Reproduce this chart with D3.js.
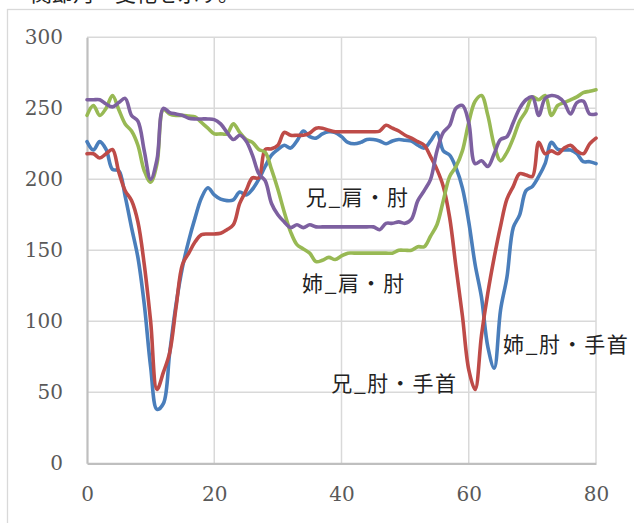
<!DOCTYPE html>
<html>
<head>
<meta charset="utf-8">
<script src="https://cdn.jsdelivr.net/npm/d3@7/dist/d3.min.js"></script>
<style>
  body { margin: 0; background: #fff; }
  svg { display: block; }
</style>
</head>
<body>
<svg id="chart" width="634" height="523"></svg>
<script>
// Joint angle (degrees) per frame, frames 0..80
const aneElbowWrist = [
  226.5, 220.6, 226.5, 221, 207, 206, 188, 166, 145, 112,
  68, 38, 42, 78, 112, 138, 157, 173, 187, 194,
  189, 186, 185, 185.5, 191, 189, 193, 200, 209, 217,
  221, 224, 222, 227, 234, 230, 229, 232, 233.5, 233,
  230, 226, 225, 226, 228, 228, 227, 225, 227, 228,
  227.5, 227, 224, 222, 227, 233, 220, 217, 208, 194,
  170, 140, 117, 82, 67, 108, 131, 166, 175, 192,
  195, 202, 211, 226, 221, 220.6, 220.6, 218, 212.4, 212.4,
  211
];
const aniElbowWrist = [
  218, 218, 215, 218, 221, 205, 192, 185, 170, 140,
  100, 52, 64, 78, 110, 140, 148, 156, 161, 161.5,
  161.5, 162, 164.5, 168, 183, 192, 201, 201, 221, 221.5,
  224, 233, 231, 231, 231, 232.5, 236, 236, 234.5, 233.5,
  233.5, 233.5, 233.5, 233.5, 233.5, 233.5, 234, 238, 236, 234,
  231, 229, 226.5, 224, 216, 207, 195, 173, 138, 104,
  66, 52, 90, 120, 145, 167, 186, 195, 204, 203,
  202, 226, 218, 220, 218, 222, 224, 220, 218, 225,
  229
];
const aneShoulderElbow = [
  245, 252, 245, 250, 259, 249, 239, 234, 224, 206,
  198, 211, 249, 246, 245, 245, 244.5, 244, 240, 236,
  232, 232, 232, 239, 233, 228, 226, 221, 219, 207,
  193, 177, 163, 154, 151, 148, 142, 143, 145, 143.5,
  146, 148, 148, 148, 148, 148, 148, 148, 148, 150,
  150, 150, 152.5, 152.5, 160, 168, 185, 202, 209, 220,
  240, 255, 259, 245, 224, 213, 219, 229, 241, 248,
  258, 256, 259, 245, 252, 254, 256, 258, 261, 262,
  263
];
const aniShoulderElbow = [
  256, 256, 256, 253, 251, 254, 257, 245, 241, 220,
  200, 214, 250, 247, 246, 245, 243, 242.5, 242.5, 242.5,
  242, 239, 233, 228, 231, 227, 217, 204, 199, 183,
  175, 170, 166, 168, 166, 168, 166.5, 166.5, 166.5, 166.5,
  166.5, 166.5, 166.5, 166.5, 166.5, 166.5, 164.5, 169, 169, 170,
  169, 172, 185, 192, 200, 220, 233, 238, 250, 252,
  240, 211, 213, 209, 218, 228, 230, 240, 250, 256,
  258, 245, 257, 259, 258, 254, 246, 254, 255, 246,
  246
];

const seriesNames = ["姉_肘・手首", "兄_肘・手首", "姉_肩・肘", "兄_肩・肘"];
const seriesColors = ["#4a7ebb", "#be4b48", "#98b954", "#7d60a0"];
const seriesValues = [aneElbowWrist, aniElbowWrist, aneShoulderElbow, aniShoulderElbow];

const xTicks = [0, 20, 40, 60, 80];
const yTicks = [0, 50, 100, 150, 200, 250, 300];

// In-plot series labels: series index, frame and angle of the text baseline start
const labelAnchors = [
  { s: 3, x: 34.4, y: 182 },
  { s: 2, x: 33.8, y: 121 },
  { s: 0, x: 65.4, y: 78.5 },
  { s: 1, x: 38.4, y: 51 }
];

const svg = d3.select("#chart");
const W = 634, H = 523;

const x = d3.scaleLinear().domain([0, 80]).range([87, 596]);
const y = d3.scaleLinear().domain([0, 300]).range([463.3, 37.3]);

// caption line running above the chart frame (only its lower edge shows)
svg.append("text")
  .attr("x", 10).attr("y", 1)
  .attr("font-family", "'Noto Sans CJK JP', sans-serif")
  .attr("font-size", 21)
  .attr("fill", "#222")
  .text("・関節角・変化を示す。");

// chart frame
svg.append("rect")
  .attr("x", 7.5).attr("y", 9.5)
  .attr("width", W + 10).attr("height", H + 10)
  .attr("fill", "#fff")
  .attr("stroke", "#d9d9d9")
  .attr("stroke-width", 1.3);

// gridlines
const grid = svg.append("g");
grid.selectAll("line.h").data(yTicks.filter(d => d > 0)).join("line")
  .attr("x1", x(0)).attr("x2", x(80))
  .attr("y1", d => y(d)).attr("y2", d => y(d))
  .attr("stroke", "#d9d9d9").attr("stroke-width", 1.5);
grid.selectAll("line.v").data(xTicks.filter(d => d > 0)).join("line")
  .attr("y1", y(0)).attr("y2", y(300))
  .attr("x1", d => x(d)).attr("x2", d => x(d))
  .attr("stroke", "#d9d9d9").attr("stroke-width", 1.5);

// axes
const yAxis = d3.axisLeft(y).tickValues(yTicks).tickSize(0).tickPadding(24);
const xAxis = d3.axisBottom(x).tickValues(xTicks).tickSize(0).tickPadding(24);

const gy = svg.append("g").attr("transform", `translate(${x(0)},0)`).call(yAxis);
const gx = svg.append("g").attr("transform", `translate(0,${y(0)})`).call(xAxis);
[gx, gy].forEach(g => {
  g.select(".domain").attr("stroke", "#bfbfbf").attr("stroke-width", 2.2);
  g.selectAll("text")
    .attr("font-family", "'DejaVu Serif', serif")
    .attr("font-size", 20)
    .attr("fill", "#595959");
});

// series lines
const line = d3.line()
  .x((d, i) => x(i))
  .y(d => y(d))
  .curve(d3.curveCatmullRom.alpha(0.5));

svg.append("g").selectAll("path").data(seriesValues).join("path")
  .attr("d", d => line(d))
  .attr("fill", "none")
  .attr("stroke", (d, i) => seriesColors[i])
  .attr("stroke-width", 3.6)
  .attr("stroke-linejoin", "round")
  .attr("stroke-linecap", "round");

// series labels
svg.append("g").selectAll("text").data(labelAnchors).join("text")
  .attr("x", d => x(d.x))
  .attr("y", d => y(d.y))
  .attr("font-family", "'Noto Sans CJK JP', sans-serif")
  .attr("font-size", 21)
  .attr("letter-spacing", 1.6)
  .attr("fill", "#222")
  .text(d => seriesNames[d.s]);
</script>
</body>
</html>
